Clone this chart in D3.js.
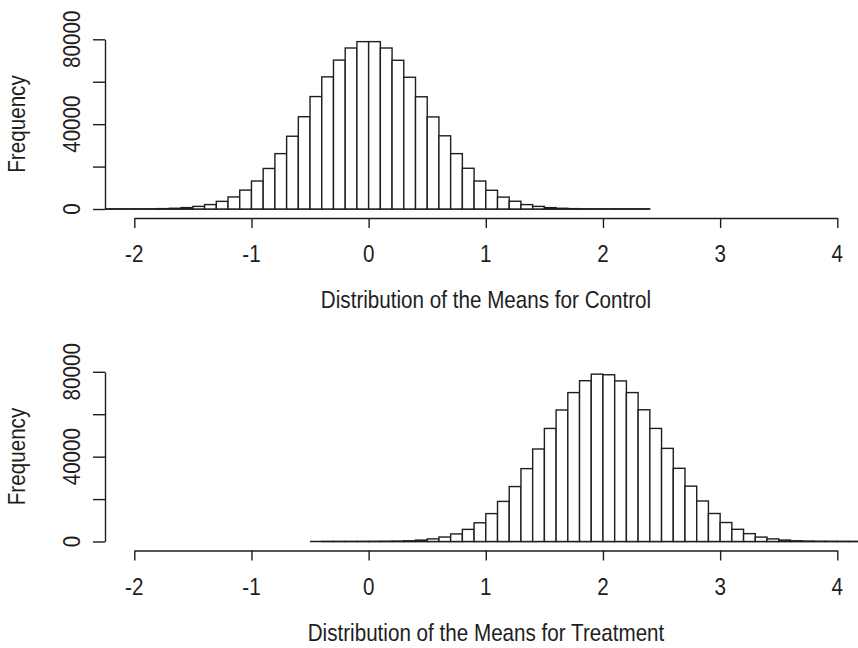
<!DOCTYPE html>
<html>
<head>
<meta charset="utf-8">
<script src="https://cdn.jsdelivr.net/npm/d3@7"></script>
<style>
  body { margin: 0; background: #fff; }
  svg { display: block; }
  .lbl { font-family: "Liberation Sans", Arial, sans-serif; font-size: 24px; fill: #1e1e1e; }
</style>
</head>
<body>
<svg id="chart" width="858" height="648"></svg>
<script>
// lower edge of every bin (width 0.1) and the counts
const binWidth = 0.1;

const controlEdges = [-2.4, -2.3, -2.2, -2.1, -2.0, -1.9, -1.8, -1.7, -1.6, -1.5,
  -1.4, -1.3, -1.2, -1.1, -1.0, -0.9, -0.8, -0.7, -0.6, -0.5,
  -0.4, -0.3, -0.2, -0.1, 0.0, 0.1, 0.2, 0.3, 0.4, 0.5,
  0.6, 0.7, 0.8, 0.9, 1.0, 1.1, 1.2, 1.3, 1.4, 1.5,
  1.6, 1.7, 1.8, 1.9, 2.0, 2.1, 2.2, 2.3];
const controlCounts = [1, 3, 7, 18, 40, 80, 180, 340, 650, 1230,
  2080, 3600, 5680, 8900, 13200, 19100, 26100, 34300, 43500, 53000,
  62300, 70200, 75900, 78900, 78900, 75900, 70100, 62100, 52900, 43400,
  34500, 26100, 19200, 13200, 8820, 5600, 3650, 2070, 1230, 640,
  340, 170, 80, 40, 17, 7, 3, 1];

const treatmentEdges = [-0.5, -0.4, -0.3, -0.2, -0.1, 0.0, 0.1, 0.2, 0.3, 0.4,
  0.5, 0.6, 0.7, 0.8, 0.9, 1.0, 1.1, 1.2, 1.3, 1.4,
  1.5, 1.6, 1.7, 1.8, 1.9, 2.0, 2.1, 2.2, 2.3, 2.4,
  2.5, 2.6, 2.7, 2.8, 2.9, 3.0, 3.1, 3.2, 3.3, 3.4,
  3.5, 3.6, 3.7, 3.8, 3.9, 4.0, 4.1, 4.2, 4.3, 4.4];
const treatmentCounts = [0, 1, 3, 8, 17, 38, 85, 175, 345, 650,
  1220, 2110, 3560, 5720, 8830, 13150, 18900, 25900, 34350, 43600,
  53300, 62000, 70200, 75800, 78900, 78600, 75700, 70200, 62100, 53300,
  43900, 34500, 26100, 19100, 13200, 8950, 5750, 3700, 2080, 1240,
  680, 340, 180, 80, 40, 18, 7, 3, 1, 0];

const xTicks = [-2, -1, 0, 1, 2, 3, 4];
const yTicks = [0, 20000, 40000, 60000, 80000];
const yTickLabels = [0, 40000, 80000];
const yTitle = "Frequency";
const xTitles = ["Distribution of the Means for Control", "Distribution of the Means for Treatment"];

const ink = "#1e1e1e";
const squeeze = 0.86;   // the original font is a narrow one
const svg = d3.select("#chart");

const x = d3.scaleLinear().domain([-2, 4]).range([134.3, 837.3]);

function drawPanel(edges, counts, title, top, idx) {
    // top = pixel offset of the panel
    var y = d3.scaleLinear().domain([0, 80000]).range([top + 209, top + 39.3]);
    var g = svg.append("g");
    var axisY = top + 218;
    var plotLeft = 105, plotRight = 866;

    var clipId = "clip" + idx;
    svg.append("clipPath").attr("id", clipId)
       .append("rect")
       .attr("x", plotLeft).attr("y", top)
       .attr("width", plotRight - plotLeft).attr("height", 230);

    var bars = g.append("g").attr("clip-path", "url(#" + clipId + ")");
    bars.append("line")
        .attr("x1", x(edges[0])).attr("x2", x(edges[edges.length - 1] + binWidth))
        .attr("y1", y(0)).attr("y2", y(0))
        .attr("stroke", ink).attr("stroke-width", 1.5);
    bars.selectAll("rect")
        .data(counts)
        .join("rect")
        .attr("x", (d, i) => x(edges[i]))
        .attr("width", x(binWidth) - x(0))
        .attr("y", d => y(d))
        .attr("height", d => y(0) - y(d))
        .attr("fill", "#fff")
        .attr("stroke", ink)
        .attr("stroke-width", 1.4);

    // x axis
    var xa = g.append("g")
        .attr("transform", "translate(0," + axisY + ")")
        .call(d3.axisBottom(x).tickValues(xTicks).tickSize(10).tickSizeOuter(0).tickFormat(""));
    xa.selectAll("path, line").attr("stroke", ink).attr("stroke-width", 1.4);

    g.selectAll(".xlab")
        .data(xTicks)
        .join("text")
        .attr("class", "lbl")
        .attr("text-anchor", "middle")
        .attr("transform", d => "translate(" + x(d) + "," + (top + 262) + ") scale(" + squeeze + ",1)")
        .text(d => d);

    g.append("text")
        .attr("class", "lbl")
        .attr("text-anchor", "middle")
        .attr("transform", "translate(486," + (top + 308) + ") scale(" + squeeze + ",1)")
        .text(title);

    // y axis
    var ya = g.append("g")
        .attr("transform", "translate(" + plotLeft + ",0)")
        .call(d3.axisLeft(y).tickValues(yTicks).tickSize(12).tickSizeOuter(0).tickFormat(""));
    ya.selectAll("path, line").attr("stroke", ink).attr("stroke-width", 1.4);

    g.selectAll(".ylab")
        .data(yTickLabels)
        .join("text")
        .attr("class", "lbl")
        .attr("text-anchor", "middle")
        .attr("transform", d => "translate(80," + y(d) + ") rotate(-90) scale(" + squeeze + ",1)")
        .text(d => d);

    g.append("text")
        .attr("class", "lbl")
        .attr("text-anchor", "middle")
        .attr("transform", "translate(25," + (top + 124) + ") rotate(-90) scale(" + squeeze + ",1)")
        .text(yTitle);
}

drawPanel(controlEdges, controlCounts, xTitles[0], 0, 0);
drawPanel(treatmentEdges, treatmentCounts, xTitles[1], 332.5, 1);
</script>
</body>
</html>
